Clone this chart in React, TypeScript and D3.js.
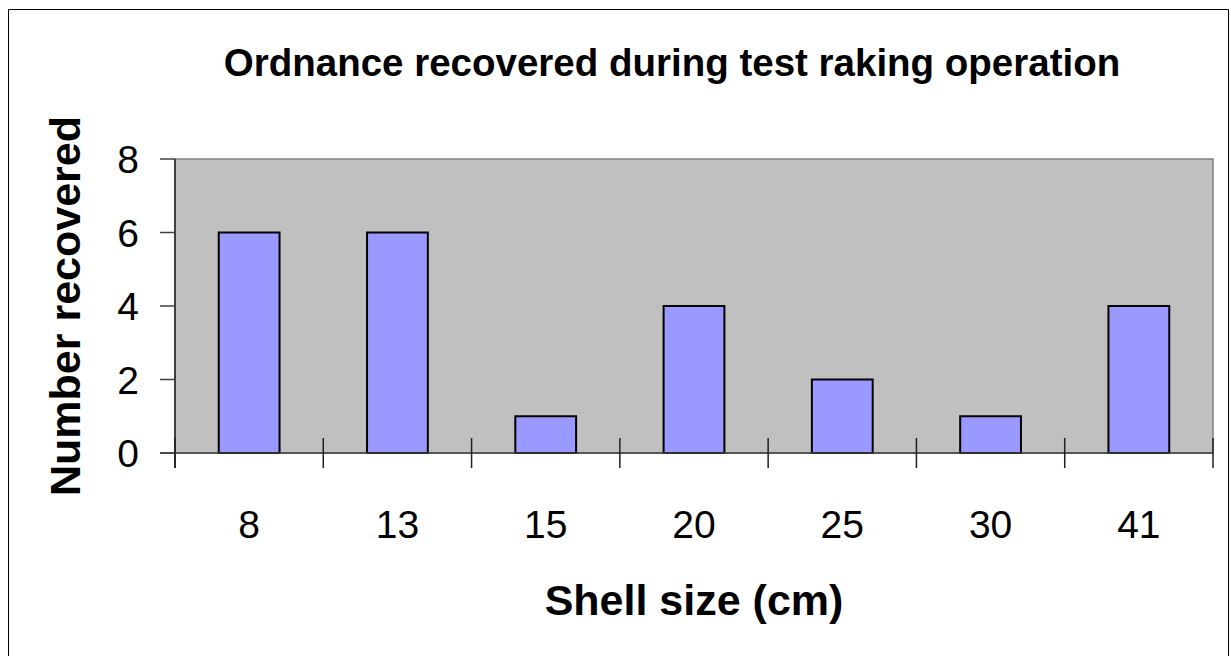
import React from "react";
import * as d3 from "d3";

const categories = ["8", "13", "15", "20", "25", "30", "41"];
const counts = [6, 6, 1, 4, 2, 1, 4];
const yTicks = [0, 2, 4, 6, 8];
const title = "Ordnance recovered during test raking operation";
const xTitle = "Shell size (cm)";
const yTitle = "Number recovered";

const W = 1231;
const H = 656;
const plot = { left: 175, right: 1213, top: 159, bottom: 453 };
const font = "Arial, 'Liberation Sans', Helvetica, sans-serif";

export default function App() {
  const x = d3
    .scaleBand<string>()
    .domain(categories)
    .range([plot.left, plot.right])
    .paddingInner(0.59)
    .paddingOuter(0.295);
  const y = d3.scaleLinear().domain([0, 8]).range([plot.bottom, plot.top]);
  const step = x.step();
  const boundaries = d3.range(categories.length + 1).map((i) => plot.left + i * step);

  return (
    <svg
      width={W}
      height={H}
      style={{ position: "absolute", left: 0, top: 0, background: "#fff" }}
    >
      {/* outer frame */}
      <path d={`M8.5,${H + 2} V9.5 H1228.5 V${H + 2}`} fill="none" stroke="#000" strokeWidth={1} />

      {/* plot area */}
      <rect
        x={plot.left}
        y={plot.top}
        width={plot.right - plot.left}
        height={plot.bottom - plot.top}
        fill="#C0C0C0"
        stroke="#808080"
        strokeWidth={1.5}
      />

      {/* bars */}
      {categories.map((c, i) => (
        <rect
          key={c}
          x={x(c)}
          y={y(counts[i])}
          width={x.bandwidth()}
          height={y(0) - y(counts[i])}
          fill="#9999FF"
          stroke="#000"
          strokeWidth={2}
        />
      ))}

      {/* y axis */}
      <line x1={plot.left} x2={plot.left} y1={plot.top} y2={plot.bottom + 15} stroke="#404040" strokeWidth={2} />
      {yTicks.map((t) => (
        <g key={t}>
          <line x1={plot.left - 15} x2={plot.left} y1={y(t)} y2={y(t)} stroke="#404040" strokeWidth={1.5} />
          <text
            x={139}
            y={y(t) + 14}
            textAnchor="end"
            fontFamily={font}
            fontSize={39}
            fill="#000"
          >
            {t}
          </text>
        </g>
      ))}

      {/* x axis */}
      <line x1={plot.left - 15} x2={plot.right} y1={plot.bottom} y2={plot.bottom} stroke="#404040" strokeWidth={1.5} />
      {boundaries.map((bx, i) => (
        <line key={i} x1={bx} x2={bx} y1={plot.bottom - 15} y2={plot.bottom + 15} stroke="#202020" strokeWidth={1.5} />
      ))}
      {categories.map((c) => (
        <text
          key={c}
          x={(x(c) as number) + x.bandwidth() / 2}
          y={538}
          textAnchor="middle"
          fontFamily={font}
          fontSize={39}
          fill="#000"
        >
          {c}
        </text>
      ))}

      {/* titles */}
      <text x={672} y={76} textAnchor="middle" fontFamily={font} fontWeight="bold" fontSize={38.5} fill="#000">
        {title}
      </text>
      <text x={694} y={615} textAnchor="middle" fontFamily={font} fontWeight="bold" fontSize={43} fill="#000">
        {xTitle}
      </text>
      <text
        transform={`translate(80,306) rotate(-90)`}
        textAnchor="middle"
        fontFamily={font}
        fontWeight="bold"
        fontSize={43}
        fill="#000"
      >
        {yTitle}
      </text>
    </svg>
  );
}
